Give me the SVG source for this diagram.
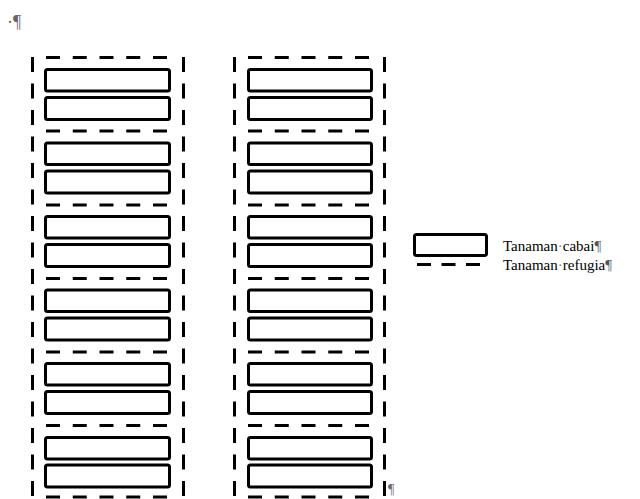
<svg xmlns="http://www.w3.org/2000/svg" width="640" height="499" viewBox="0 0 640 499">
<style>
.bed{fill:#fff;stroke:#000;stroke-width:3}
.hd{stroke:#000;stroke-width:3;stroke-dasharray:14 12.75;fill:none}
.vd{stroke:#000;stroke-width:3;stroke-dasharray:15 11.5;fill:none}
.lg{stroke:#000;stroke-width:3;stroke-dasharray:14 10.5;fill:none}
.t{font-family:"Liberation Serif","Times New Roman",serif;font-size:15px;fill:#000}
.mk{font-family:"Liberation Serif","Times New Roman",serif;font-size:18px;fill:#666}
</style>
<rect width="640" height="499" fill="#fff"/>
<text class="mk" x="7" y="28">·¶</text>
<g id="refugia-lines">
<line class="vd" x1="32.5" y1="57" x2="32.5" y2="499"/>
<line class="vd" x1="183.5" y1="57" x2="183.5" y2="499"/>
<line class="vd" x1="234.5" y1="57" x2="234.5" y2="499"/>
<line class="vd" x1="384.5" y1="57" x2="384.5" y2="499"/>
<g id="left-h">
<line class="hd" x1="46" y1="57.5" x2="167" y2="57.5"/>
<line class="hd" x1="46" y1="131" x2="167" y2="131"/>
<line class="hd" x1="46" y1="205" x2="167" y2="205"/>
<line class="hd" x1="46" y1="278.5" x2="167" y2="278.5"/>
<line class="hd" x1="46" y1="352" x2="167" y2="352"/>
<line class="hd" x1="46" y1="425.5" x2="167" y2="425.5"/>
<line class="hd" x1="46" y1="497" x2="167" y2="497"/>
</g>
<g id="right-h">
<line class="hd" x1="248" y1="57.5" x2="369" y2="57.5"/>
<line class="hd" x1="248" y1="131" x2="369" y2="131"/>
<line class="hd" x1="248" y1="205" x2="369" y2="205"/>
<line class="hd" x1="248" y1="278.5" x2="369" y2="278.5"/>
<line class="hd" x1="248" y1="352" x2="369" y2="352"/>
<line class="hd" x1="248" y1="425.5" x2="369" y2="425.5"/>
<line class="hd" x1="248" y1="497" x2="369" y2="497"/>
</g>
</g>
<g id="left-column">
<g id="L1"><rect class="bed" x="45.5" y="69.5" width="124" height="21.5" rx="2"/><rect class="bed" x="45.5" y="97.5" width="124" height="22" rx="2"/></g>
<g id="L2"><rect class="bed" x="45.5" y="143" width="124" height="21.5" rx="2"/><rect class="bed" x="45.5" y="171" width="124" height="22" rx="2"/></g>
<g id="L3"><rect class="bed" x="45.5" y="216.5" width="124" height="21.5" rx="2"/><rect class="bed" x="45.5" y="244.5" width="124" height="22" rx="2"/></g>
<g id="L4"><rect class="bed" x="45.5" y="290" width="124" height="21.5" rx="2"/><rect class="bed" x="45.5" y="318" width="124" height="22" rx="2"/></g>
<g id="L5"><rect class="bed" x="45.5" y="363.5" width="124" height="21.5" rx="2"/><rect class="bed" x="45.5" y="391.5" width="124" height="22" rx="2"/></g>
<g id="L6"><rect class="bed" x="45.5" y="437.5" width="124" height="21.5" rx="2"/><rect class="bed" x="45.5" y="465" width="124" height="22" rx="2"/></g>
</g>
<g id="right-column">
<g id="R1"><rect class="bed" x="248.5" y="69.5" width="123" height="21.5" rx="2"/><rect class="bed" x="248.5" y="97.5" width="123" height="22" rx="2"/></g>
<g id="R2"><rect class="bed" x="248.5" y="143" width="123" height="21.5" rx="2"/><rect class="bed" x="248.5" y="171" width="123" height="22" rx="2"/></g>
<g id="R3"><rect class="bed" x="248.5" y="216.5" width="123" height="21.5" rx="2"/><rect class="bed" x="248.5" y="244.5" width="123" height="22" rx="2"/></g>
<g id="R4"><rect class="bed" x="248.5" y="290" width="123" height="21.5" rx="2"/><rect class="bed" x="248.5" y="318" width="123" height="22" rx="2"/></g>
<g id="R5"><rect class="bed" x="248.5" y="363.5" width="123" height="21.5" rx="2"/><rect class="bed" x="248.5" y="391.5" width="123" height="22" rx="2"/></g>
<g id="R6"><rect class="bed" x="248.5" y="437.5" width="123" height="21.5" rx="2"/><rect class="bed" x="248.5" y="465" width="123" height="22" rx="2"/></g>
</g>
<text class="mk" x="388" y="494" style="font-size:14px">¶</text>
<g id="legend">
<rect class="bed" x="414.5" y="234.5" width="72" height="21" rx="2"/>
<line class="lg" x1="417" y1="264.5" x2="480" y2="264.5"/>
<text class="t" x="503" y="251">Tanaman<tspan fill="#808080">·</tspan>cabai<tspan fill="#555">¶</tspan></text>
<text class="t" x="503" y="270">Tanaman<tspan fill="#808080">·</tspan>refugia<tspan fill="#555">¶</tspan></text>
</g>
</svg>
